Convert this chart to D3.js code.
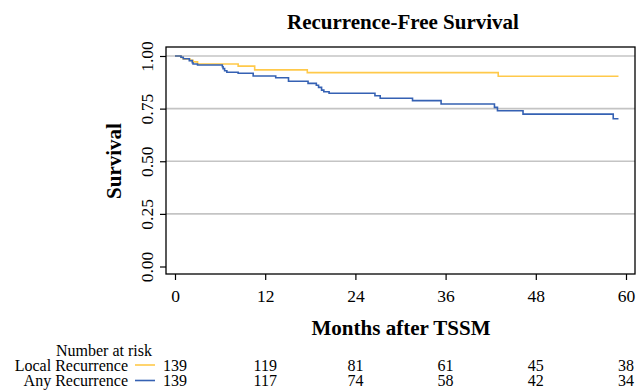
<!DOCTYPE html>
<html><head><meta charset="utf-8">
<script src="https://cdn.jsdelivr.net/npm/d3@7"></script>
<style>body{margin:0;background:#fff} svg text{font-family:"Liberation Serif","Times New Roman",serif;fill:#000}</style>
</head><body><svg id="c" width="636" height="390"></svg>
<script>
// ---- data ----
const localTimes = [0, 0.8, 1.1, 2.0, 2.4, 3.0, 8.4, 10.6, 17.6, 43.0, 59.0];
const localSurv  = [1, 0.993, 0.986, 0.979, 0.972, 0.962, 0.952, 0.934, 0.921, 0.904, 0.904];
const anyTimes = [0, 0.8, 1.1, 1.9, 2.3, 2.4, 3.0, 6.3, 6.4, 6.6, 6.9, 8.4, 10.4, 13.4, 15.1, 17.7, 18.8, 19.1, 19.5, 19.8, 20.5, 26.6, 27.3, 31.6, 35.4, 42.5, 42.9, 46.3, 58.3, 59.0];
const anySurv  = [1, 0.994, 0.987, 0.978, 0.968, 0.962, 0.957, 0.949, 0.940, 0.930, 0.923, 0.918, 0.905, 0.897, 0.880, 0.870, 0.861, 0.851, 0.838, 0.830, 0.823, 0.811, 0.799, 0.788, 0.772, 0.756, 0.740, 0.724, 0.702, 0.702];
const xTicks = [0, 12, 24, 36, 48, 60];
const yTicks = [0, 0.25, 0.5, 0.75, 1];
const gridTicks = [0.25, 0.5, 0.75, 1];
const riskLabels = ["Local Recurrence", "Any Recurrence"];
const riskLocal = [139, 119, 81, 61, 45, 38];
const riskAny   = [139, 117, 74, 58, 42, 34];

const colLocal = "#FFC94A", colAny = "#3561B3";
const svg = d3.select("#c");
const box = {l: 166, t: 47, r: 635, b: 274};
const x = d3.scaleLinear().domain([0, 60]).range([175, 626]);
const y = d3.scaleLinear().domain([0, 1]).range([266.5, 56]);

// gridlines
svg.append("g").selectAll("line").data(gridTicks).join("line")
  .attr("x1", box.l).attr("x2", box.r)
  .attr("y1", d => y(d)).attr("y2", d => y(d))
  .attr("stroke", "#C4C4C4").attr("stroke-width", 1.6);

// curves
const line = d3.line().x(d => x(d[0])).y(d => y(d[1])).curve(d3.curveStepAfter);
svg.append("path").datum(localTimes.map((t, i) => [t, localSurv[i]]))
  .attr("d", line).attr("fill", "none").attr("stroke", colLocal).attr("stroke-width", 1.6);
svg.append("path").datum(anyTimes.map((t, i) => [t, anySurv[i]]))
  .attr("d", line).attr("fill", "none").attr("stroke", colAny).attr("stroke-width", 1.6);

// box
svg.append("rect").attr("x", box.l).attr("y", box.t)
  .attr("width", box.r - box.l).attr("height", box.b - box.t)
  .attr("fill", "none").attr("stroke", "#000").attr("stroke-width", 1.3);

// y axis
const ya = svg.append("g").attr("transform", `translate(${box.l},0)`)
  .call(d3.axisLeft(y).tickValues(yTicks).tickSize(6).tickFormat(d3.format(".2f")));
ya.select(".domain").remove();
ya.selectAll(".tick line").attr("stroke", "#000").attr("stroke-width", 1.2);
ya.selectAll(".tick text").attr("x", null).attr("dy", null).attr("y", null)
  .attr("text-anchor", "middle").attr("transform", "translate(-13,0) rotate(-90)")
  .style("font-size", "17.5px").style("font-family", '"Liberation Serif",serif').attr("fill", "#000");

// x axis
const xa = svg.append("g").attr("transform", `translate(0,${box.b})`)
  .call(d3.axisBottom(x).tickValues(xTicks).tickSize(6));
xa.select(".domain").remove();
xa.selectAll(".tick line").attr("stroke", "#000").attr("stroke-width", 1.2);
xa.selectAll(".tick text").attr("y", 28).attr("dy", null)
  .style("font-size", "17.5px").style("font-family", '"Liberation Serif",serif').attr("fill", "#000");

// titles
svg.append("text").attr("x", 403).attr("y", 29).attr("text-anchor", "middle")
  .style("font-size", "21px").style("font-weight", "bold").text("Recurrence-Free Survival");
svg.append("text").attr("x", 401).attr("y", 335).attr("text-anchor", "middle")
  .style("font-size", "21px").style("font-weight", "bold").text("Months after TSSM");
svg.append("text").attr("transform", "translate(121,161) rotate(-90)").attr("text-anchor", "middle")
  .style("font-size", "21px").style("font-weight", "bold").text("Survival");

// risk table
svg.append("text").attr("x", 104).attr("y", 355.5).attr("text-anchor", "middle")
  .style("font-size", "16px").text("Number at risk");
const rows = [{lab: riskLabels[0], col: colLocal, vals: riskLocal, yb: 370.5},
              {lab: riskLabels[1], col: colAny, vals: riskAny, yb: 386}];
rows.forEach(r => {
  svg.append("text").attr("x", 128).attr("y", r.yb).attr("text-anchor", "end")
    .style("font-size", "16px").text(r.lab);
  svg.append("line").attr("x1", 135).attr("x2", 155).attr("y1", r.yb - 5.5).attr("y2", r.yb - 5.5)
    .attr("stroke", r.col).attr("stroke-width", 1.6);
  svg.append("g").selectAll("text").data(r.vals).join("text")
    .attr("x", (d, i) => x(xTicks[i])).attr("y", r.yb).attr("text-anchor", "middle")
    .style("font-size", "16px").text(d => d);
});
</script></body></html>
